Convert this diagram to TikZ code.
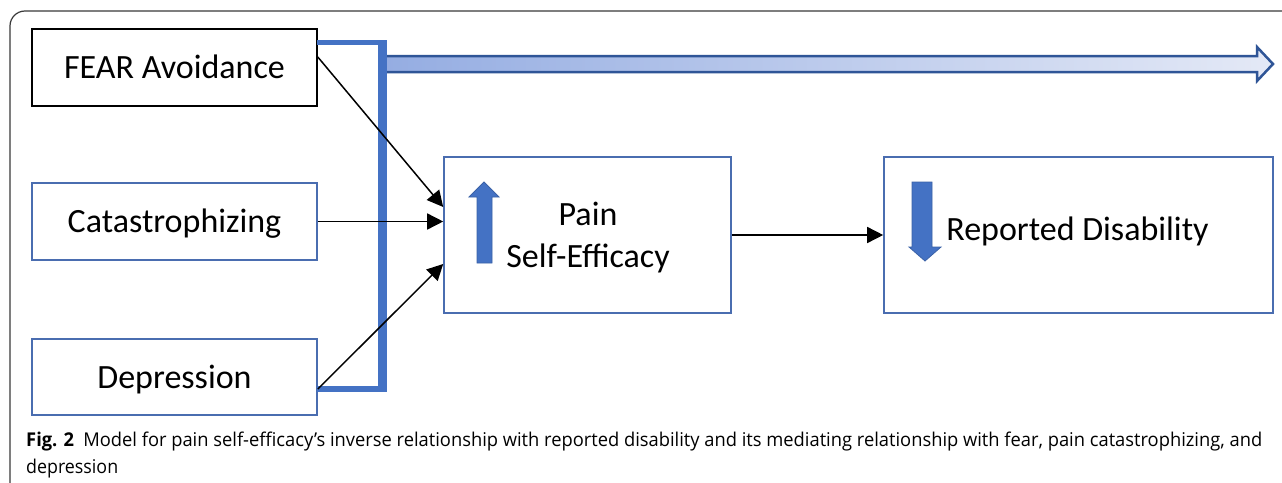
\documentclass[tikz,border=0pt]{standalone}
\usepackage{fontspec}
\setmainfont{Carlito}
\newfontfamily\capfont{Open Sans}
\usetikzlibrary{arrows.meta}
\definecolor{barblue}{HTML}{4472C4}
\definecolor{boxblue}{HTML}{4A6DB0}
\definecolor{arrline}{HTML}{2F5597}
\definecolor{shadeL}{HTML}{95ADE2}
\definecolor{shadeR}{HTML}{E4E9F6}
\definecolor{framegray}{HTML}{3A3A3A}
\newsavebox{\capsbox}
\newcommand{\fitwidth}[2]{\sbox{\capsbox}{#2}\pgfmathsetmacro{\capsx}{#1/\wd\capsbox}\scalebox{\capsx}[1]{\usebox{\capsbox}}}
\tikzset{
  boxnode/.style={draw=boxblue, line width=1.6pt, inner sep=0pt,
    text height=22pt, text depth=0pt, font=\fontsize{34}{40}\selectfont},
  lbl/.style={inner sep=0pt, font=\fontsize{34}{40}\selectfont},
  conn/.style={line width=1.5pt, -{Triangle[length=16pt,width=16pt]}},
  thickarrow/.style={fill=barblue, draw=barblue!85!black, line width=0.8pt},
  captext/.style={anchor=base west, inner sep=0pt, font=\capfont\fontsize{19}{22}\selectfont},
}
\begin{document}
\begin{tikzpicture}[x=1pt,y=-1pt]
\useasboundingbox (0,0) rectangle (1282,482);
\clip (0,0) rectangle (1282,482);
\fill[white] (0,0) rectangle (1282,482);
% outer frame
\draw[framegray, line width=1.2pt, rounded corners=15pt] (10,500) -- (10,11) -- (1300,11);

% boxes
\node[boxnode, draw=black, minimum width=285pt, minimum height=77pt] (fear) at (174.5,67.5) {FEAR Avoidance};
\node[boxnode, minimum width=285pt, minimum height=77pt] (cat) at (174.5,221.5) {Catastrophizing};
\node[boxnode, minimum width=285pt, minimum height=76pt] (dep) at (174.5,377) {Depression};
\node[boxnode, minimum width=287pt, minimum height=156pt] (pse) at (587.5,235) {};
\node[boxnode, minimum width=389pt, minimum height=156pt] (rd) at (1078.5,235) {};

\node[lbl, anchor=base] (pain) at (588,225) {Pain};
\node[lbl, anchor=base] (selfeff) at (588,267) {Self-Efficacy};
\node[lbl, anchor=base] (rdtext) at (1077.5,240) {Reported Disability};

% big shaded arrow
\path[draw=arrline, line width=2.5pt, left color=shadeL, right color=shadeR]
  (385,56) -- (1257,56) -- (1257,47) -- (1273,64) -- (1257,81) -- (1257,72) -- (385,72) -- cycle;

% blue bracket
\fill[barblue] (317,39.5) rectangle (387,44.5);
\fill[barblue] (378,40) rectangle (387,392);
\fill[barblue] (317,386) rectangle (387,392);

% up / down arrows
\path[thickarrow] (477,263) -- (477,197) -- (469,197) -- (484,182) -- (499,197) -- (492,197) -- (492,263) -- cycle;
\path[thickarrow] (912,182) -- (932,182) -- (932,247) -- (941,247) -- (925,261) -- (909,247) -- (912,247) -- cycle;

% connectors
\draw[conn] ([yshift=10.5pt]fear.east) -- ([yshift=28pt]pse.west);
\draw[conn] (cat.east) -- (pse.west |- cat.east);
\draw[conn] ([yshift=-12pt]dep.east) -- ([yshift=-29pt]pse.west);
\draw[conn] (pse.east) -- (rd.west);

% caption
\node[captext] (cap1) at (26,446)
  {\fitwidth{1236}{\textbf{Fig. 2}\hspace{0.5em}Model for pain self-efficacy’s inverse relationship with reported disability and its mediating relationship with fear, pain catastrophizing, and}};
\node[captext] (cap2) at (26,473)
  {\fitwidth{92}{depression}};
\end{tikzpicture}
\end{document}
